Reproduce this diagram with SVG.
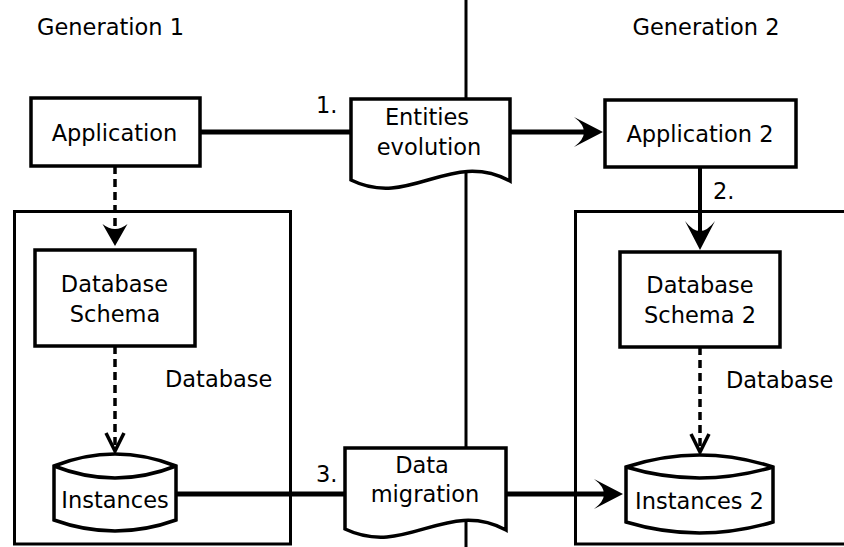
<svg xmlns="http://www.w3.org/2000/svg" width="844" height="547" viewBox="0 0 844 547">
  <style>
    text { font-family: "DejaVu Sans", "Liberation Sans", sans-serif; font-size: 22.5px; fill: #000; }
    .c { text-anchor: middle; }
    .box { fill: #fff; stroke: #000; stroke-width: 3.5; }
    .frame { fill: none; stroke: #000; stroke-width: 3; }
    .flow { fill: none; stroke: #000; stroke-width: 5; }
    .link { fill: none; stroke: #000; stroke-width: 4; }
    .dash { fill: none; stroke: #000; stroke-width: 3.5; stroke-dasharray: 8 5; }
  </style>
  <defs>
    <marker id="headL" markerUnits="userSpaceOnUse" orient="auto" overflow="visible" refX="-17" refY="0" markerWidth="1" markerHeight="1">
      <path d="M-29,-15 L0,0 L-29,15 Q-9,0 -29,-15 Z" fill="#000"/>
    </marker>
    <marker id="headS" markerUnits="userSpaceOnUse" orient="auto" overflow="visible" refX="-15" refY="0" markerWidth="1" markerHeight="1">
      <path d="M-22,-12.5 L0,0 L-22,12.5 Q-12,0 -22,-12.5 Z" fill="#000"/>
    </marker>
    <marker id="headV" markerUnits="userSpaceOnUse" orient="auto" overflow="visible" refX="-1" refY="0" markerWidth="1" markerHeight="1">
      <path d="M-18,-9 L0,0 L-18,9" fill="none" stroke="#000" stroke-width="3.5" stroke-linejoin="miter"/>
    </marker>
  </defs>

  <rect width="844" height="547" fill="#fff"/>

  <!-- generation headings -->
  <text class="c" x="110.5" y="35">Generation 1</text>
  <text class="c" x="706" y="35">Generation 2</text>

  <!-- divider between generations -->
  <line x1="466" y1="0" x2="466" y2="547" stroke="#000" stroke-width="3"/>

  <!-- database containers -->
  <g id="db1">
    <rect class="frame" x="14.5" y="211.5" width="276" height="332.5"/>
    <text x="165" y="387">Database</text>
  </g>
  <g id="db2">
    <path class="frame" d="M844,211.5 H575.5 V544 H844"/>
    <text x="726" y="388">Database</text>
  </g>

  <!-- connectors -->
  <g id="connectors">
    <line class="flow" x1="200" y1="132" x2="352" y2="132"/>
    <line class="flow" x1="509" y1="132" x2="586" y2="132" marker-end="url(#headL)"/>
    <line class="link" x1="700" y1="167" x2="700" y2="233" marker-end="url(#headL)"/>
    <line class="flow" x1="176" y1="494" x2="346" y2="494"/>
    <line class="flow" x1="505" y1="494" x2="606" y2="494" marker-end="url(#headL)"/>
    <line class="dash" x1="115" y1="166" x2="115" y2="231" marker-end="url(#headS)"/>
    <line class="dash" x1="115" y1="346" x2="115" y2="450" marker-end="url(#headV)"/>
    <line class="dash" x1="700" y1="347" x2="700" y2="451" marker-end="url(#headV)"/>
    <text x="316" y="113">1.</text>
    <text x="713" y="199">2.</text>
    <text x="316" y="482">3.</text>
  </g>

  <g id="application">
    <rect class="box" x="31" y="98" width="169" height="68"/>
    <text class="c" x="114.5" y="141">Application</text>
  </g>

  <g id="entities-evolution">
    <path class="box" d="M351,99 H510 V181 C450,149 410,209 351,180 Z"/>
    <text class="c" x="427" y="125">Entities</text>
    <text class="c" x="429" y="155">evolution</text>
  </g>

  <g id="application2">
    <rect class="box" x="605" y="100" width="191" height="67"/>
    <text class="c" x="700" y="142">Application 2</text>
  </g>

  <g id="schema">
    <rect class="box" x="35" y="250" width="160" height="96"/>
    <text class="c" x="114.5" y="292">Database</text>
    <text class="c" x="115" y="322">Schema</text>
  </g>

  <g id="schema2">
    <rect class="box" x="620" y="252" width="160" height="95"/>
    <text class="c" x="700" y="293">Database</text>
    <text class="c" x="700" y="323">Schema 2</text>
  </g>

  <g id="instances">
    <path class="box" d="M54,466 Q115,442 176,466 V520 Q115,542 54,520 Z"/>
    <path class="box" d="M54,466 Q115,490 176,466" fill="none"/>
    <text class="c" x="115" y="508">Instances</text>
  </g>

  <g id="data-migration">
    <path class="box" d="M345,448 H506 V530 C446,498 406,558 345,529 Z"/>
    <text class="c" x="422" y="473">Data</text>
    <text class="c" x="425" y="502">migration</text>
  </g>

  <g id="instances2">
    <path class="box" d="M626,467 Q699.5,443 773,467 V522 Q699.5,544 626,522 Z"/>
    <path class="box" d="M626,467 Q699.5,489 773,467" fill="none"/>
    <text class="c" x="699.5" y="509">Instances 2</text>
  </g>
</svg>
